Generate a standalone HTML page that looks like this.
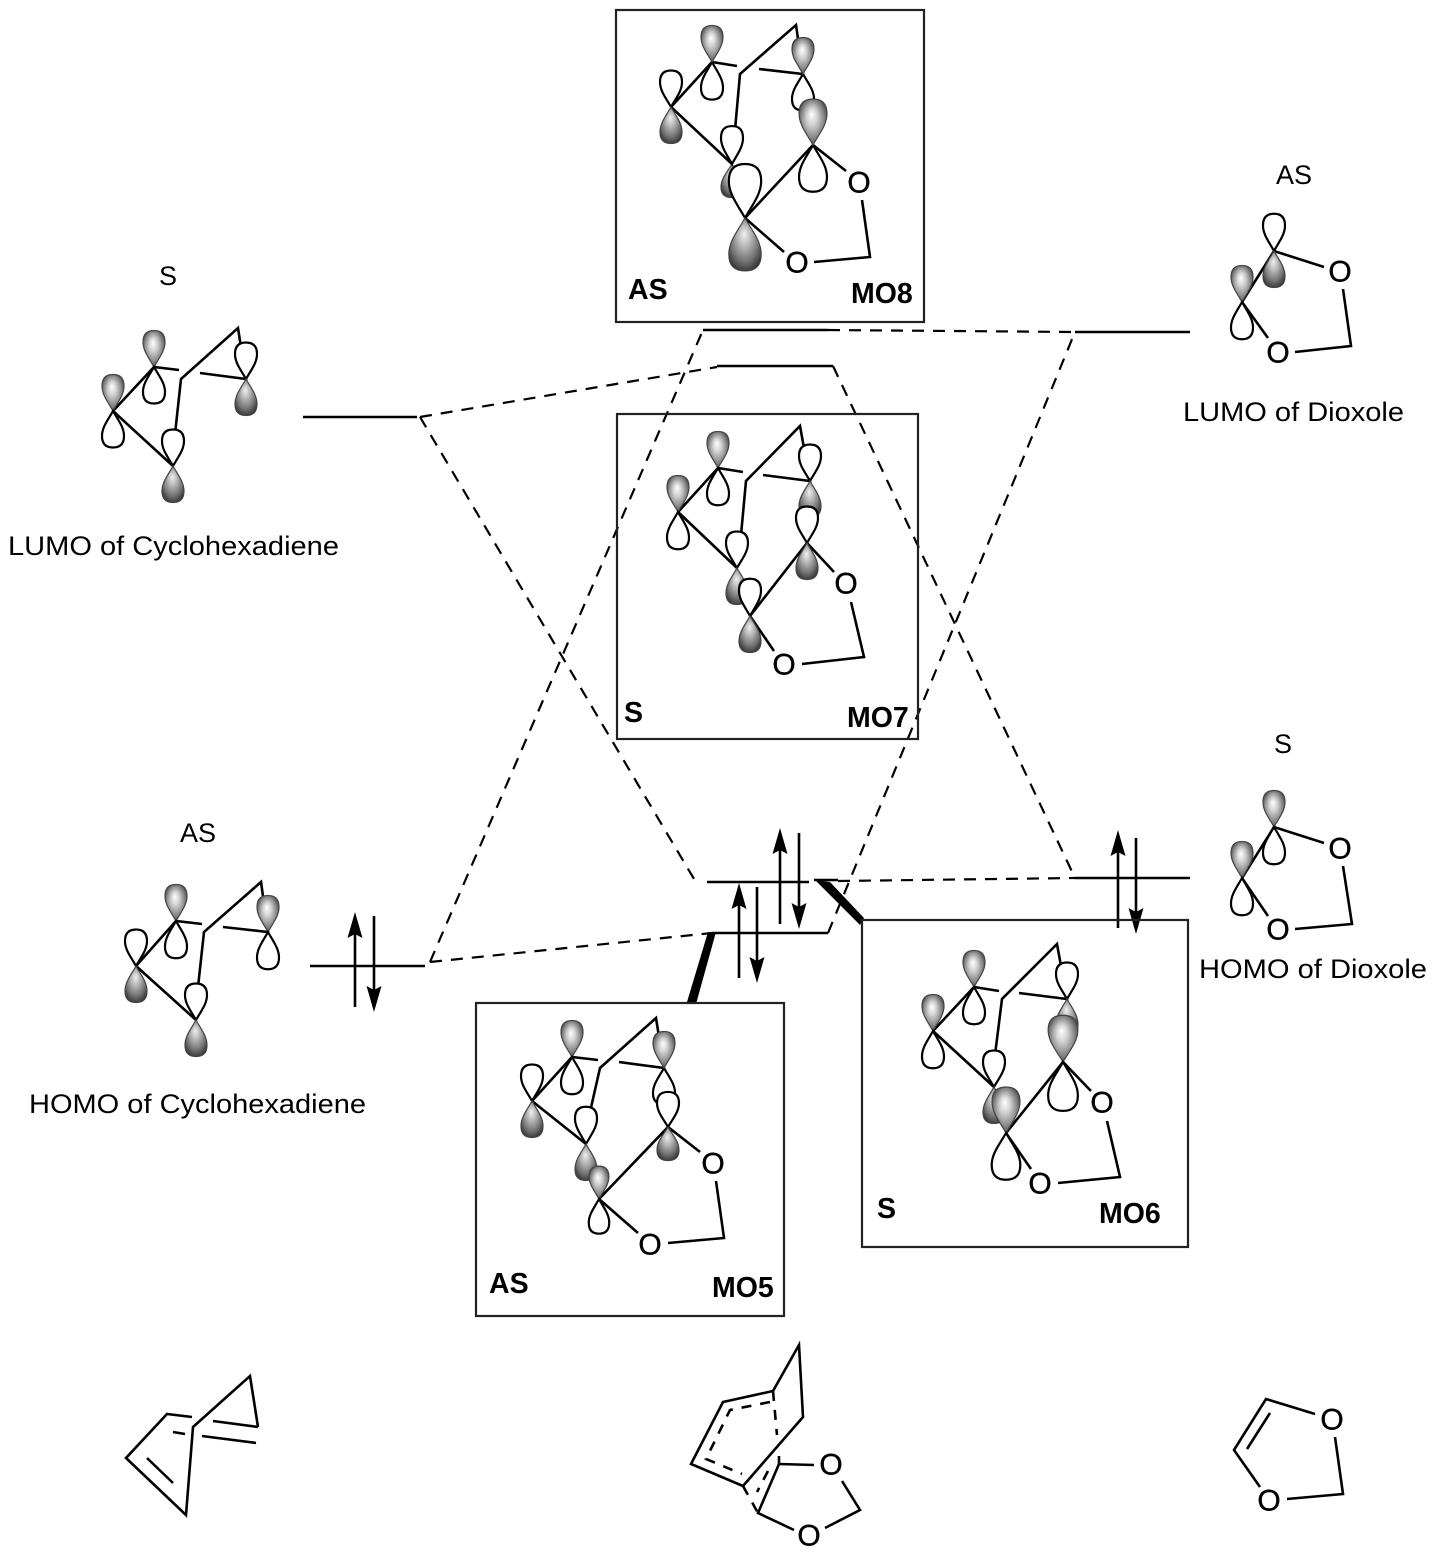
<!DOCTYPE html>
<html>
<head>
<meta charset="utf-8">
<style>
html,body{margin:0;padding:0;background:#fff}
svg{display:block}
text{font-family:"Liberation Sans",sans-serif;fill:#000}
.t{font-size:27px}
.b{font-size:28.5px;font-weight:bold}
.o{font-size:30px;text-anchor:middle;stroke:#000;stroke-width:.4;transform:translateY(.7px)}
.l{fill:none;stroke:#000;stroke-width:2.6}
.h{fill:none;stroke:#000;stroke-width:2.5}
.x{fill:none;stroke:#000;stroke-width:2.2;stroke-dasharray:12 9}
.box{fill:none;stroke:#222;stroke-width:2.2}
</style>
</head>
<body>
<svg xmlns="http://www.w3.org/2000/svg" width="1437" height="1557" viewBox="0 0 1437 1557">
<defs>
<radialGradient id="gu" cx="0.5" cy="0.5" r="0.62" fx="0.45" fy="0.33">
<stop offset="0" stop-color="#fff"/><stop offset="0.3" stop-color="#d2d2d2"/><stop offset="0.7" stop-color="#7c7c7c"/><stop offset="1" stop-color="#333"/>
</radialGradient>
<radialGradient id="gd" cx="0.5" cy="0.42" r="0.62" fx="0.47" fy="0.3">
<stop offset="0" stop-color="#f0f0f0"/><stop offset="0.3" stop-color="#bcbcbc"/><stop offset="0.7" stop-color="#747474"/><stop offset="1" stop-color="#333"/>
</radialGradient>
<path id="w" d="M0 0C-5 -9 -11 -16 -11 -25C-11 -33 -7 -36.5 0 -36.5C7 -36.5 11 -33 11 -25C11 -16 5 -9 0 0Z" fill="#fff" stroke="#000" stroke-width="2.2" vector-effect="non-scaling-stroke"/>
<path id="s" d="M0 0C-5 -9 -11 -16 -11 -25C-11 -33 -7 -36.5 0 -36.5C7 -36.5 11 -33 11 -25C11 -16 5 -9 0 0Z" fill="url(#gu)" stroke="#444" stroke-width="1.2" vector-effect="non-scaling-stroke"/>
<path id="d" d="M0 0C-5 9 -11 16 -11 25C-11 33 -7 36.5 0 36.5C7 36.5 11 33 11 25C11 16 5 9 0 0Z" fill="url(#gd)" stroke="#444" stroke-width="1.2" vector-effect="non-scaling-stroke"/>
</defs>

<!-- energy levels -->
<path class="h" d="M303 417H417M717 366H833M707 882H809M814 880H838M1075 878H1190M712 933H828M310 966H425M703 330H828M1075 332H1190"/>
<path class="x" d="M420 417L717 367"/>
<path class="x" d="M833 366L1075 878"/>
<path class="x" d="M420 417L697 884"/>
<path class="x" d="M838 881L1075 878"/>
<path class="x" d="M828 933L1075 332"/>
<path class="x" d="M430 962L712 933"/>
<path class="x" d="M430 962L703 330"/>
<path class="x" d="M828 330L1075 332"/>

<!-- thick connectors -->
<polygon points="708,932 716,932 696,1004 687,1002" fill="#000"/>
<polygon points="815,880 830,882 864,918 860,925" fill="#000"/>

<!-- spin arrows -->
<path class="l" stroke-width="2" d="M355 1007V930M374 916V995M780 924V845M799 833V912M739 978V900M757 887V966M1118 928V850M1136 838V918"/>
<polygon fill="#000" points="355,912 362.5,938 355,934 347.5,938"/>
<polygon fill="#000" points="374,1012 381.5,986 374,990 366.5,986"/>
<polygon fill="#000" points="780,828 787.5,854 780,850 772.5,854"/>
<polygon fill="#000" points="799,929 806.5,903 799,907 791.5,903"/>
<polygon fill="#000" points="739,883 746.5,909 739,905 731.5,909"/>
<polygon fill="#000" points="757,983 764.5,957 757,961 749.5,957"/>
<polygon fill="#000" points="1118,830 1125.5,856 1118,852 1110.5,856"/>
<polygon fill="#000" points="1136,934 1143.5,908 1136,912 1128.5,908"/>

<!-- boxes -->
<rect class="box" x="616" y="10" width="308" height="312"/>
<rect class="box" x="617" y="414" width="301" height="325"/>
<rect class="box" x="476" y="1003" width="308" height="313"/>
<rect class="box" x="862" y="920" width="326" height="327"/>

<!-- MO8 -->
<path class="l" d="M671 107L712 62L737 66M735 130L740 74L796 25L803 74L759 69M671 107L732 164M745 218L813 145L846 171M745 218L784 252M862 200L870 257L814 262"/>
<use href="#w" transform="translate(671,107)"/><use href="#d" transform="translate(671,107)"/>
<use href="#w" transform="translate(712,62) scale(1,-1.03)"/><use href="#s" transform="translate(712,62)"/>
<use href="#w" transform="translate(803,74) scale(1,-1)"/><use href="#s" transform="translate(803,74)"/>
<use href="#w" transform="translate(813,145) scale(1.27,-1.28)"/><use href="#s" transform="translate(813,145) scale(1.27,1.26)"/>
<use href="#d" transform="translate(732,164) scale(1,.92)"/><use href="#w" transform="translate(732,164) scale(1,1.04)"/>
<use href="#w" transform="translate(745,218) scale(1.47,1.48)"/><use href="#d" transform="translate(745,218) scale(1.47,1.45)"/>
<text class="o" x="859" y="192">O</text><text class="o" x="797" y="272">O</text>
<text class="b" x="628" y="299">AS</text><text class="b" x="851" y="303">MO8</text>

<!-- MO7 -->
<path class="l" d="M678 512L718 468L743 472M741 535L746 481L800 426L810 481L763 475M678 512L737 568M750 616L807 543L834 572M750 616L774 651M851 602L864 657L802 664"/>
<use href="#s" transform="translate(678,512)"/><use href="#w" transform="translate(678,512) scale(1,-1.02)"/>
<use href="#s" transform="translate(718,468)"/><use href="#w" transform="translate(718,468) scale(1,-1.02)"/>
<use href="#w" transform="translate(810,481)"/><use href="#d" transform="translate(810,481)"/>
<use href="#w" transform="translate(807,543)"/><use href="#d" transform="translate(807,543)"/>
<use href="#w" transform="translate(737,568)"/><use href="#d" transform="translate(737,568)"/>
<use href="#w" transform="translate(750,616) scale(1,1.02)"/><use href="#d" transform="translate(750,616)"/>
<text class="o" x="846" y="593">O</text><text class="o" x="784" y="674">O</text>
<text class="b" x="624" y="722">S</text><text class="b" x="847" y="727">MO7</text>

<!-- MO5 -->
<path class="l" d="M532 1101L572 1057L598 1060M590 1112L600 1068L656 1018L664 1068L619 1062M532 1101L586 1144M599 1199L668 1127L700 1152M599 1199L638 1233M716 1181L724 1238L668 1243"/>
<use href="#w" transform="translate(532,1101)"/><use href="#d" transform="translate(532,1101)"/>
<use href="#s" transform="translate(572,1057)"/><use href="#w" transform="translate(572,1057) scale(1,-1.02)"/>
<use href="#w" transform="translate(664,1068) scale(1,-1)"/><use href="#s" transform="translate(664,1068)"/>
<use href="#w" transform="translate(668,1127) scale(1,.96)"/><use href="#d" transform="translate(668,1127) scale(1,.92)"/>
<use href="#w" transform="translate(586,1144) scale(1,1.02)"/><use href="#d" transform="translate(586,1144)"/>
<use href="#s" transform="translate(599,1199) scale(.9,.9)"/><use href="#w" transform="translate(599,1199) scale(.93,-.95)"/>
<text class="o" x="713" y="1173">O</text><text class="o" x="650" y="1254">O</text>
<text class="b" x="489" y="1293">AS</text><text class="b" x="712" y="1297">MO5</text>

<!-- MO6 -->
<path class="l" d="M933 1031L974 987L999 991M995 1055L1002 999L1057 944L1067 999L1019 993M933 1031L994 1087M1006 1133L1063 1062L1091 1091M1006 1133L1031 1169M1107 1121L1120 1177L1058 1183"/>
<use href="#s" transform="translate(933,1031)"/><use href="#w" transform="translate(933,1031) scale(1,-1.02)"/>
<use href="#s" transform="translate(974,987)"/><use href="#w" transform="translate(974,987) scale(1,-1.02)"/>
<use href="#w" transform="translate(1067,999)"/><use href="#d" transform="translate(1067,999)"/>
<use href="#s" transform="translate(1063,1062) scale(1.35,1.28)"/><use href="#w" transform="translate(1063,1062) scale(1.35,-1.34)"/>
<use href="#w" transform="translate(994,1087)"/><use href="#d" transform="translate(994,1087)"/>
<use href="#s" transform="translate(1006,1133) scale(1.27,1.26)"/><use href="#w" transform="translate(1006,1133) scale(1.3,-1.28)"/>
<text class="o" x="1102" y="1112">O</text><text class="o" x="1040" y="1193">O</text>
<text class="b" x="877" y="1218">S</text><text class="b" x="1099" y="1223">MO6</text>

<!-- LUMO cyclohexadiene -->
<path class="l" d="M113 411L154 367L179 370M175 434L181 379L238 328L246 379L200 373M113 411L173 466"/>
<use href="#s" transform="translate(113,411)"/><use href="#w" transform="translate(113,411) scale(1,-1)"/>
<use href="#s" transform="translate(154,367)"/><use href="#w" transform="translate(154,367) scale(1,-1)"/>
<use href="#w" transform="translate(246,379)"/><use href="#d" transform="translate(246,379)"/>
<use href="#w" transform="translate(173,466)"/><use href="#d" transform="translate(173,466)"/>

<!-- HOMO cyclohexadiene -->
<path class="l" d="M136 966L176 921L202 924M198 987L204 932L261 882L268 932L223 927M136 966L196 1020"/>
<use href="#w" transform="translate(136,966)"/><use href="#d" transform="translate(136,966)"/>
<use href="#s" transform="translate(176,921)"/><use href="#w" transform="translate(176,921) scale(1,-1.02)"/>
<use href="#s" transform="translate(268,932)"/><use href="#w" transform="translate(268,932) scale(1,-1.02)"/>
<use href="#w" transform="translate(196,1020)"/><use href="#d" transform="translate(196,1020)"/>

<!-- LUMO dioxole -->
<path class="l" d="M1242 302L1274 251L1324 267M1242 302L1268 338M1343 289L1351 346L1295 352"/>
<use href="#s" transform="translate(1242,302)"/><use href="#w" transform="translate(1242,302) scale(1,-1.02)"/>
<use href="#w" transform="translate(1274,251) scale(1,1.02)"/><use href="#d" transform="translate(1274,251)"/>
<text class="o" x="1340" y="281">O</text><text class="o" x="1278" y="362">O</text>

<!-- HOMO dioxole -->
<path class="l" d="M1242 878L1274 827L1324 843M1242 878L1268 916M1343 866L1352 924L1295 929"/>
<use href="#s" transform="translate(1242,878)"/><use href="#w" transform="translate(1242,878) scale(1,-1.02)"/>
<use href="#s" transform="translate(1274,827)"/><use href="#w" transform="translate(1274,827) scale(1,-1.02)"/>
<text class="o" x="1340" y="858">O</text><text class="o" x="1278" y="939">O</text>

<!-- bottom molecules -->
<path class="l" d="M258 1427L250 1376L193 1427L186 1515L126 1458L167 1414L192 1417M173 1432L185 1434M147 1458L173 1483M213 1421L258 1427M202 1436L256 1443"/>
<path class="l" d="M773 1391L799 1345L803 1417L743 1486L691 1464L723 1402L773 1391M779 1456V1464L758 1513L794 1530M779 1464L814 1465M842 1481L860 1510L825 1528"/>
<path class="l" stroke-dasharray="10 9" d="M770 1402L730 1410L706 1459L742 1474M773 1391L777 1435M743 1486L758 1513M768 1471L757 1492"/>
<text class="o" x="831" y="1474">O</text><text class="o" x="809" y="1545">O</text>
<path class="l" d="M1315 1414L1266 1399L1234 1450L1260 1487M1270 1413L1247 1449M1335 1437L1343 1494L1287 1499"/>
<text class="o" x="1332" y="1429">O</text><text class="o" x="1269" y="1510">O</text>

<!-- labels -->
<text class="t" x="168" y="285" text-anchor="middle">S</text>
<text class="t" x="8" y="555" textLength="331" lengthAdjust="spacingAndGlyphs">LUMO of Cyclohexadiene</text>
<text class="t" x="1294" y="184" text-anchor="middle">AS</text>
<text class="t" x="1183" y="421" textLength="221" lengthAdjust="spacingAndGlyphs">LUMO of Dioxole</text>
<text class="t" x="1283" y="753" text-anchor="middle">S</text>
<text class="t" x="1199" y="978" textLength="228" lengthAdjust="spacingAndGlyphs">HOMO of Dioxole</text>
<text class="t" x="198" y="842" text-anchor="middle">AS</text>
<text class="t" x="29" y="1113" textLength="337" lengthAdjust="spacingAndGlyphs">HOMO of Cyclohexadiene</text>
</svg>
</body>
</html>
